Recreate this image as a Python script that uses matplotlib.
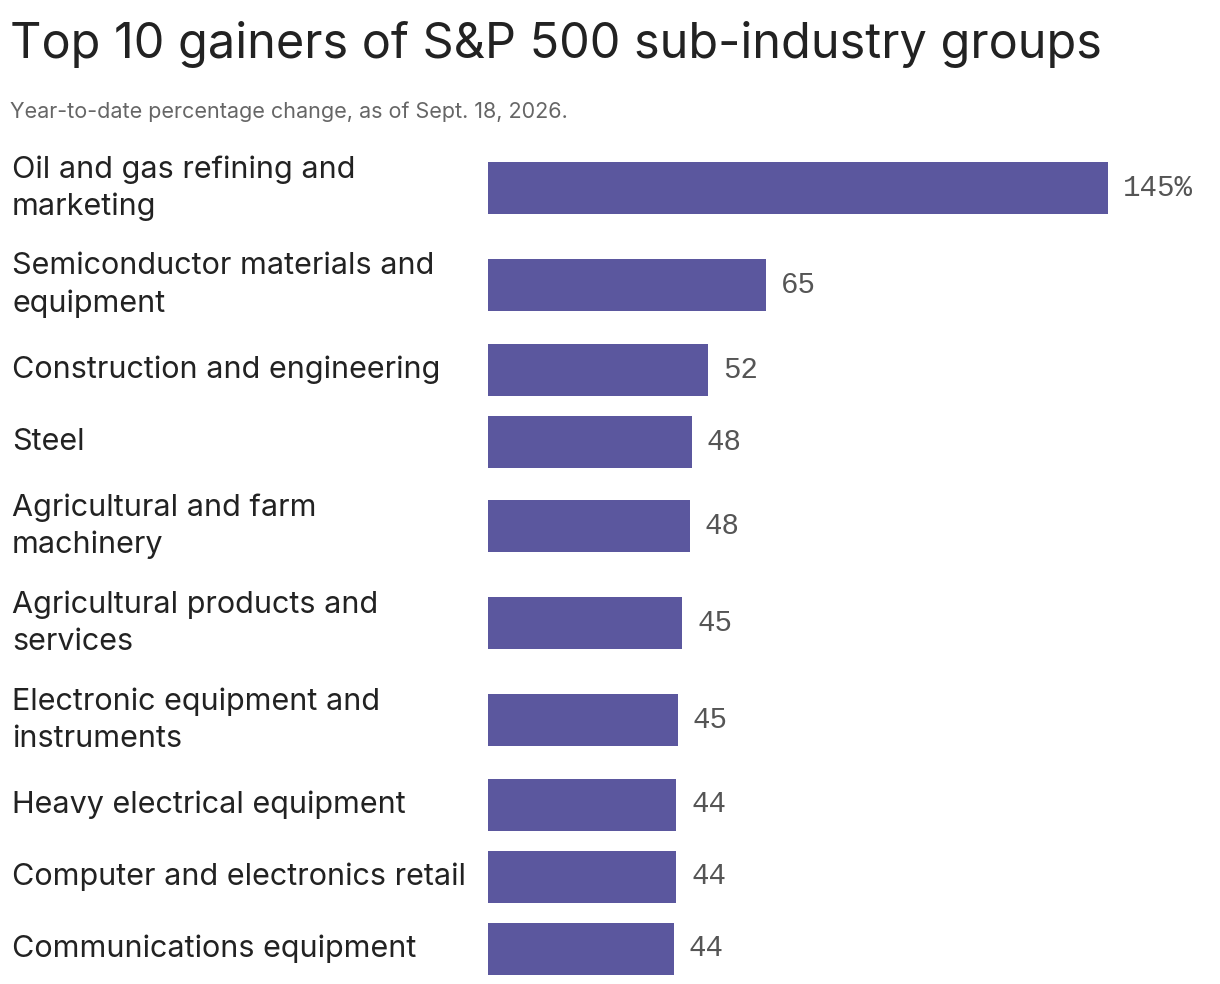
import matplotlib
matplotlib.use("Agg")
import matplotlib.pyplot as plt

categories = ["Oil and gas refining and\nmarketing", "Semiconductor materials and\nequipment",
              "Construction and engineering", "Steel", "Agricultural and farm\nmachinery",
              "Agricultural products and\nservices", "Electronic equipment and\ninstruments",
              "Heavy electrical equipment", "Computer and electronics retail", "Communications equipment"]
values = [145, 65, 51.5, 47.7, 47.2, 45.4, 44.4, 44.0, 44.0, 43.5]
value_labels = ["145%", "65", "52", "48", "48", "45", "45", "44", "44", "44"]

W, H, DPI = 1220, 984, 100
fig = plt.figure(figsize=(W/DPI, H/DPI), dpi=DPI)
fig.patch.set_facecolor("white")
ax = fig.add_axes([488/W, 0, 1-488/W, 1])
ax.set_xlim(0, (W-488)/4.276)
ax.set_ylim(H, 0)
ax.axis("off")

centers = []
y = 152
for c in categories:
    h = 97 if "\n" in c else 72
    centers.append(y + h/2)
    y += h
shift = centers[0] - 188
centers = [c - shift for c in centers]

ax.barh(centers, values, height=52, color="#5b579e")
for yc, v, lab, c in zip(centers, values, value_labels, categories):
    ax.text(v + 3.5, yc, lab, va="center", ha="left",
            family="Liberation Mono", fontsize=21, color="#555555")
    fig.text(12/W, 1-yc/H, c, va="center", ha="left", family="Inter", fontsize=22,
             color="#222222", linespacing=1.4)

fig.text(10/W, 1-45/H, "Top 10 gainers of S&P 500 sub-industry groups", family="Inter",
         fontsize=35, color="#222222", va="center")
fig.text(10/W, 1-112/H, "Year-to-date percentage change, as of Sept. 18, 2026.", family="Inter",
         fontsize=15.5, color="#666666", va="center")
fig.savefig("out.png", dpi=DPI, facecolor="white")
